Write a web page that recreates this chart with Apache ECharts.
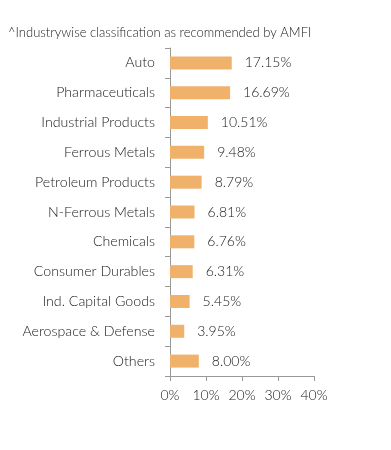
<!DOCTYPE html>
<html><head><meta charset="utf-8">
<script src="https://cdn.jsdelivr.net/npm/echarts@6/dist/echarts.min.js"></script>
<style>html,body{margin:0;padding:0;background:#fff}#c{width:391px;height:450px}</style>
</head><body><div id="c"></div>
<script>
var categories = ["Auto","Pharmaceuticals","Industrial Products","Ferrous Metals","Petroleum Products","N-Ferrous Metals","Chemicals","Consumer Durables","Ind. Capital Goods","Aerospace & Defense","Others"];
var values = [17.15,16.69,10.51,9.48,8.79,6.81,6.76,6.31,5.45,3.95,8.00];
var xTicks = [0,10,20,30,40];
var titleText = "^Industrywise classification as recommended by AMFI";

var chart = echarts.init(document.getElementById('c'));
chart.setOption({
  animation:false,
  textStyle:{fontFamily:'Lato',fontWeight:300},
  title:{text:titleText,left:3,top:21,textStyle:{fontSize:13,fontWeight:300,color:'#1a1a1a',fontFamily:'Lato'}},
  grid:{left:170,right:77,top:48,bottom:74,containLabel:false},
  xAxis:{type:'value',min:0,max:40,interval:10,
    axisLine:{show:true,lineStyle:{color:'#999'}},
    axisTick:{show:true,length:5,lineStyle:{color:'#999'}},
    splitLine:{show:false},
    axisLabel:{formatter:function(v){return v+'%';},fontSize:14,fontWeight:300,color:'#1a1a1a',margin:12}},
  yAxis:{type:'category',data:categories,inverse:true,
    axisLine:{show:true,lineStyle:{color:'#999'}},
    axisTick:{show:true,length:5,lineStyle:{color:'#999'}},
    axisLabel:{fontSize:14.2,fontWeight:300,color:'#1a1a1a',margin:15}},
  series:[{type:'bar',data:values,barWidth:13,itemStyle:{color:'#F0B26B'},
    label:{show:true,position:'right',distance:13,fontSize:14,fontWeight:300,color:'#1a1a1a',
      formatter:function(p){return p.value.toFixed(2)+'%';}}}]
});
</script></body></html>
